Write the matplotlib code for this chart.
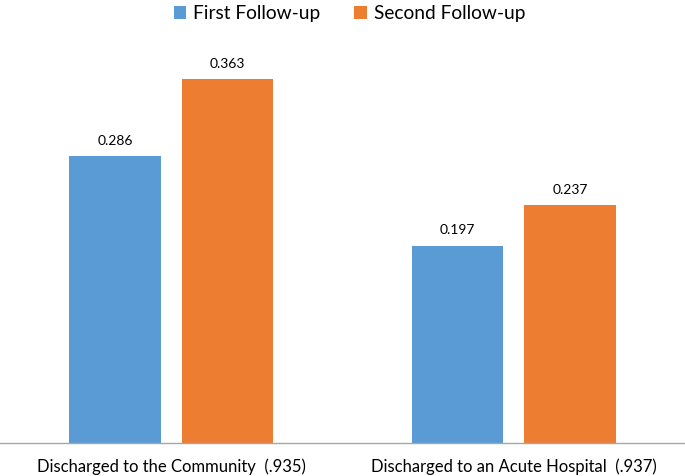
import numpy as np
import matplotlib
matplotlib.use("Agg")
import matplotlib.pyplot as plt

plt.rcParams["font.family"] = ["Lato", "DejaVu Sans"]

categories = ["Discharged to the Community  (.935)", "Discharged to an Acute Hospital  (.937)"]
series_names = ["First Follow-up", "Second Follow-up"]
first_followup = [0.286, 0.197]
second_followup = [0.363, 0.237]
colors = ["#5B9BD5", "#ED7D31"]

fig = plt.figure(figsize=(6.85, 4.76), dpi=100)
ax = fig.add_axes([0.0, 0.0693, 1.0, 0.8425])

x = np.arange(len(categories))
width = 0.267
offset = 0.164

for vals, name, color, sign in zip([first_followup, second_followup], series_names, colors, [-1, 1]):
    bars = ax.bar(x + sign * offset, vals, width, color=color, label=name)
    for b, v in zip(bars, vals):
        ax.text(b.get_x() + b.get_width() / 2, v + 0.009, f"{v:.3f}",
                ha="center", va="bottom", fontsize=10)

ax.set_xlim(-0.5, 1.5)
ax.set_ylim(0, 0.4)
ax.set_xticks(x)
ax.set_xticklabels(categories, fontsize=12)
ax.tick_params(axis="x", length=0, pad=11)
ax.set_yticks([])
for s in ["top", "right", "left"]:
    ax.spines[s].set_visible(False)
ax.spines["bottom"].set_color("#A6A6A6")
ax.spines["bottom"].set_linewidth(1.0)

fig.legend(loc="upper center", bbox_to_anchor=(0.51, 1.025), ncol=2, frameon=False,
           fontsize=13.8, handlelength=0.65, handleheight=0.65, handletextpad=0.35,
           columnspacing=1.8)

fig.savefig("out.png", dpi=100)
